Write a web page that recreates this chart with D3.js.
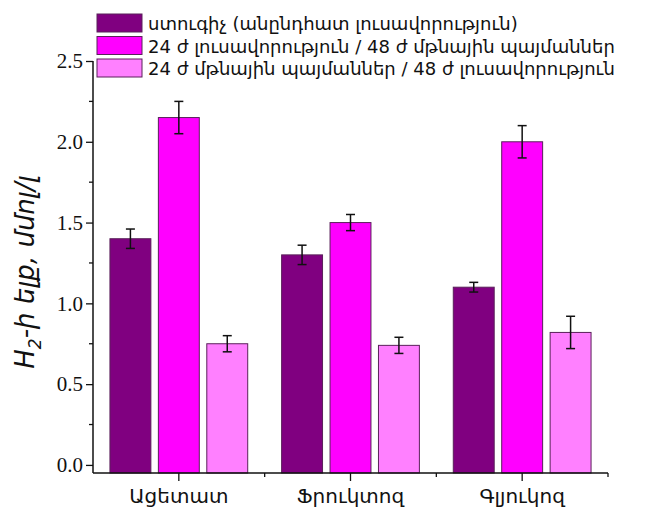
<!DOCTYPE html>
<html>
<head>
<meta charset="utf-8">
<script src="https://cdn.jsdelivr.net/npm/d3@7"></script>
<style>
  body { margin: 0; background: #fff; }
  svg text { fill: #111; }
</style>
</head>
<body>
<div id="chart"></div>
<script>
// data
var categories = ["Ացետատ", "Ֆրուկտոզ", "Գլյուկոզ"];
var seriesNames = [
    "ստուգիչ (անընդհատ լուսավորություն)",
    "24 ժ լուսավորություն / 48 ժ մթնային պայմաններ",
    "24 ժ մթնային պայմաններ / 48 ժ լուսավորություն"
];
var seriesColors = ["#800080", "#ff00ff", "#ff80ff"];
var control = [1.40, 1.30, 1.10];
var controlErr = [0.06, 0.06, 0.03];
var lightDark = [2.15, 1.50, 2.00];
var lightDarkErr = [0.10, 0.05, 0.10];
var darkLight = [0.75, 0.74, 0.82];
var darkLightErr = [0.05, 0.05, 0.10];
var yTicks = [0, 0.5, 1.0, 1.5, 2.0, 2.5];
var yMinorTicks = [0.25, 0.75, 1.25, 1.75, 2.25];
var yLabel = "ելք, մմոլ/լ";

var series = [
    { name: seriesNames[0], values: control, errs: controlErr },
    { name: seriesNames[1], values: lightDark, errs: lightDarkErr },
    { name: seriesNames[2], values: darkLight, errs: darkLightErr }
];

var width = 650, height = 510;
var plotLeft = 93, plotRight = 608, plotTop = 61, plotBottom = 473;

var svg = d3.select("#chart").append("svg")
    .attr("width", width)
    .attr("height", height);

//// SCALES ////////////////////////////////////////////////////////////////
var y = d3.scaleLinear().domain([-0.05, 2.5]).range([plotBottom, plotTop]);
var x0 = d3.scaleBand().domain(categories).range([plotLeft, plotRight]).padding(0);
var x1 = d3.scaleBand().domain(d3.range(series.length))
    .range([0, x0.bandwidth()])
    .paddingInner(0.155)
    .paddingOuter(0.35);

//// BARS //////////////////////////////////////////////////////////////////
series.forEach(function(s, i) {
    var g = svg.append("g");
    g.selectAll("rect")
        .data(s.values)
        .enter().append("rect")
        .attr("x", function(d, j) { return x0(categories[j]) + x1(i); })
        .attr("y", function(d) { return y(d); })
        .attr("width", x1.bandwidth())
        .attr("height", function(d) { return plotBottom - y(d); })
        .attr("fill", seriesColors[i])
        .attr("stroke", "#5a205a")
        .attr("stroke-width", 1);

    // error bars
    var cap = 4.5;
    s.values.forEach(function(v, j) {
        var cx = x0(categories[j]) + x1(i) + x1.bandwidth() / 2;
        var e = s.errs[j];
        g.append("line")
            .attr("x1", cx).attr("x2", cx)
            .attr("y1", y(v + e)).attr("y2", y(v - e))
            .attr("stroke", "#111").attr("stroke-width", 1.5);
        [v + e, v - e].forEach(function(t) {
            g.append("line")
                .attr("x1", cx - cap).attr("x2", cx + cap)
                .attr("y1", y(t)).attr("y2", y(t))
                .attr("stroke", "#111").attr("stroke-width", 1.5);
        });
    });
});

//// AXES //////////////////////////////////////////////////////////////////
var yAxis = svg.append("g")
    .attr("transform", "translate(" + plotLeft + ",0)")
    .call(d3.axisLeft(y).tickValues(yTicks).tickSize(7).tickPadding(3)
        .tickFormat(d3.format(".1f")));
yAxis.select(".domain").remove();
yAxis.selectAll("text")
    .style("font-family", "'Liberation Serif', 'Times New Roman', serif")
    .style("font-size", "21px");

// minor y ticks
svg.append("g").selectAll("line")
    .data(yMinorTicks)
    .enter().append("line")
    .attr("x1", plotLeft - 4).attr("x2", plotLeft)
    .attr("y1", function(d) { return y(d); })
    .attr("y2", function(d) { return y(d); })
    .attr("stroke", "#111").attr("stroke-width", 1.3);

svg.append("line")
    .attr("x1", plotLeft).attr("x2", plotLeft)
    .attr("y1", plotTop).attr("y2", plotBottom)
    .attr("stroke", "#111").attr("stroke-width", 1.5);

var xAxis = svg.append("g")
    .attr("transform", "translate(0," + plotBottom + ")")
    .call(d3.axisBottom(x0).tickSize(8).tickPadding(8));
xAxis.select(".domain").remove();
xAxis.selectAll("text")
    .style("font-family", "'DejaVu Sans', 'Noto Sans', sans-serif")
    .style("font-size", "20px");

// minor x ticks at the band edges
svg.append("g").selectAll("line")
    .data(categories.slice(1).concat(["_end"]))
    .enter().append("line")
    .attr("x1", function(d) { return d === "_end" ? plotRight : x0(d); })
    .attr("x2", function(d) { return d === "_end" ? plotRight : x0(d); })
    .attr("y1", plotBottom).attr("y2", plotBottom + 4)
    .attr("stroke", "#111").attr("stroke-width", 1.3);

svg.append("line")
    .attr("x1", plotLeft).attr("x2", plotRight)
    .attr("y1", plotBottom).attr("y2", plotBottom)
    .attr("stroke", "#111").attr("stroke-width", 1.5);

svg.selectAll(".tick line").attr("stroke", "#111").attr("stroke-width", 1.3);

//// Y LABEL ///////////////////////////////////////////////////////////////
var yTitle = svg.append("text")
    .attr("transform", "translate(34,272) rotate(-90)")
    .attr("text-anchor", "middle")
    .style("font-family", "'DejaVu Sans', 'Noto Sans', sans-serif")
    .style("font-style", "italic")
    .style("font-size", "26px");
yTitle.append("tspan").text("H");
yTitle.append("tspan").attr("dy", 7).style("font-size", "17px").text("2");
yTitle.append("tspan").attr("dy", -7).text("-ի " + yLabel);

//// LEGEND ////////////////////////////////////////////////////////////////
var legend = svg.append("g").attr("transform", "translate(97,14)");
series.forEach(function(s, i) {
    var row = legend.append("g").attr("transform", "translate(0," + (i * 22.5) + ")");
    row.append("rect")
        .attr("width", 45).attr("height", 18)
        .attr("fill", seriesColors[i])
        .attr("stroke", "#5a205a").attr("stroke-width", 1);
    row.append("text")
        .attr("x", 51).attr("y", 16)
        .style("font-family", "'DejaVu Sans', 'Noto Sans', sans-serif")
        .style("font-size", "18px")
        .text(s.name);
});
</script>
</body>
</html>
